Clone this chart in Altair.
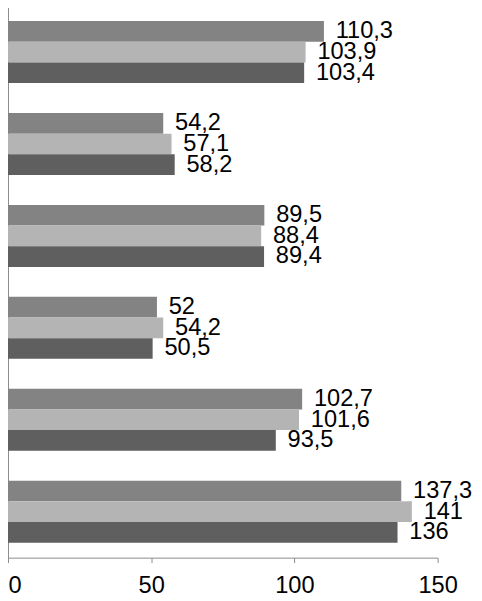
import altair as alt
import pandas as pd

groups = ["G1", "G2", "G3", "G4", "G5", "G6"]
series = ["S1", "S2", "S3"]
s1 = [110.3, 54.2, 89.5, 52, 102.7, 137.3]
s2 = [103.9, 57.1, 88.4, 54.2, 101.6, 141]
s3 = [103.4, 58.2, 89.4, 50.5, 93.5, 136]
colors = ["#838383", "#b4b4b4", "#5f5f5f"]
x_ticks = [0, 50, 100, 150]

rows = []
for name, vals in zip(series, [s1, s2, s3]):
    for g, v in zip(groups, vals):
        rows.append({"group": g, "series": name, "value": v,
                     "label": f"{v:g}".replace(".", ",")})
df = pd.DataFrame(rows)

y_enc = alt.Y(
    "group:N", sort=groups,
    scale=alt.Scale(paddingInner=0.326, paddingOuter=0.163),
    axis=alt.Axis(labels=False, title=None, tickBand="extent", tickSize=7,
                  domainColor="#8a8a8a", tickColor="#8a8a8a", grid=False),
)
yoff = alt.YOffset("series:N", sort=series,
                   scale=alt.Scale(paddingInner=0, paddingOuter=0))
x_enc = alt.X(
    "value:Q",
    scale=alt.Scale(domain=[0, 150], nice=False),
    axis=alt.Axis(values=x_ticks, title=None, grid=False, tickSize=5,
                  domainColor="#8a8a8a", tickColor="#8a8a8a",
                  labelFontSize=24, labelFont="Liberation Sans",
                  labelColor="#000000", labelPadding=11, labelFlush=False,
                  labelAlign={"condition": {"test": "datum.value == 0", "value": "left"},
                              "value": "center"}),
)

bars = alt.Chart(df).mark_bar().encode(
    x=x_enc, y=y_enc, yOffset=yoff,
    color=alt.Color("series:N", sort=series,
                    scale=alt.Scale(domain=series, range=colors), legend=None),
)
texts = alt.Chart(df).mark_text(
    align="left", baseline="middle", dx=12, fontSize=24,
    font="Liberation Sans", color="#000000",
).encode(x=x_enc, y=y_enc, yOffset=yoff, text="label:N")

chart = (bars + texts).properties(
    width=437, height=561,
    autosize=alt.AutoSizeParams(type="none"),
    padding={"left": 0, "top": -7, "right": 37, "bottom": 39},
).configure_view(stroke=None)

chart.save("out.html", embed_options={"renderer": "svg", "actions": False})
